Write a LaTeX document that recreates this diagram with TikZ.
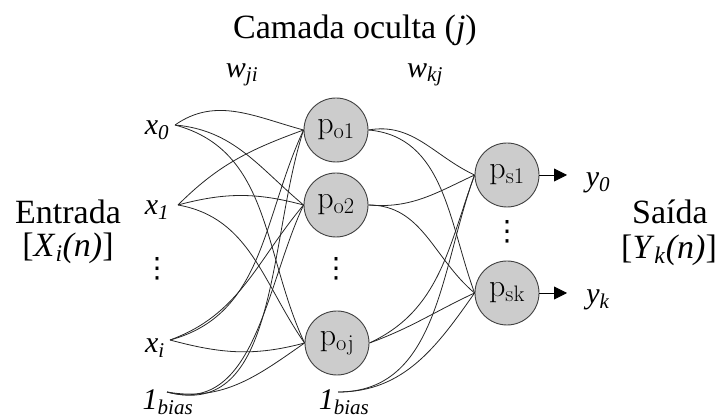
\RequirePackage{fix-cm}
\documentclass[tikz,border=0pt]{standalone}
\usepackage[no-math]{fontspec}
\setmainfont{Liberation Serif}
\newfontfamily\simbolos{DejaVu Sans}
\usetikzlibrary{arrows.meta}

\newcommand{\pontos}{{\simbolos\fontsize{28}{30}\selectfont ⋮}}

\tikzset{
  neuron/.style={circle, draw=black!75, fill=gray!40, line width=0.9pt,
    minimum size=64pt, inner sep=0pt, font=\fontsize{32}{36}\selectfont},
  conn/.style={line width=0.8pt, black!85},
  outarrow/.style={line width=0.9pt, -{Triangle[length=13pt,width=13pt]}},
  lbl/.style={font=\fontsize{30}{32}\selectfont, inner sep=1pt},
  side/.style={font=\fontsize{34}{38}\selectfont, align=center, inner sep=1pt},
}

\begin{document}
\begin{tikzpicture}[x=1pt,y=1pt]
\useasboundingbox (0,0) rectangle (719,419);

% titulo e pesos
\node[side] (titulo) at (355,389) {Camada oculta (\textit{j})};
\node[lbl] (wji) at (242,344) {\textit{w}\textsubscript{\textit{ji}}};
\node[lbl] (wkj) at (425,344) {\textit{w}\textsubscript{\textit{kj}}};

% camada de entrada
\node[lbl] (lx0) at (157,289) {\textit{x}\textsubscript{\textit{0}}};
\node[lbl] (lx1) at (157,209) {\textit{x}\textsubscript{\textit{1}}};
\node[lbl] (ldi) at (157,150) {\pontos};
\node[lbl] (lxi) at (155,71) {\textit{x}\textsubscript{\textit{i}}};
\node[lbl] (lbi) at (168,17) {\textit{1}\textsubscript{\textit{bias}}};
\coordinate (x0) at (175,294);
\coordinate (x1) at (178,214);
\coordinate (xi) at (170,79);
\coordinate (bi) at (167,27);

% camada oculta
\node[neuron] (po1) at (336,289) {$\mathrm{p}_{\mathrm{o1}}$};
\node[neuron] (po2) at (336,214) {$\mathrm{p}_{\mathrm{o2}}$};
\node[lbl] (ldo) at (336,150) {\pontos};
\node[neuron] (poj) at (337,76) {$\mathrm{p}_{\mathrm{oj}}$};
\node[lbl] (lbo) at (344,17) {\textit{1}\textsubscript{\textit{bias}}};
\coordinate (bo) at (338,27);

% camada de saida
\node[neuron] (ps1) at (507,244) {$\mathrm{p}_{\mathrm{s1}}$};
\node[lbl] (lds) at (507,187) {\pontos};
\node[neuron] (psk) at (507,126) {$\mathrm{p}_{\mathrm{sk}}$};
\coordinate (o0) at (567,244);
\coordinate (ok) at (567,126);
\node[lbl] (ly0) at (598,236) {\textit{y}\textsubscript{\textit{0}}};
\node[lbl] (lyk) at (598,119) {\textit{y}\textsubscript{\textit{k}}};

% rotulos laterais
\node[side] (entrada) at (68,207) {Entrada};
\node[side] (xin) at (68,171) {[\textit{X}\textsubscript{\textit{i}}\textit{(n)}]};
\node[side] (saida) at (670,207) {Saída};
\node[side] (yout) at (669,169) {[\textit{Y}\textsubscript{\textit{k}}\textit{(n)}]};

% pesos w_ji
\foreach \src/\dst/\o/\i in {
  x0/po1/35/165, x0/po2/-5/140, x0/poj/-15/115,
  x1/po1/45/200, x1/po2/15/165, x1/poj/-10/125,
  xi/po1/15/245, xi/po2/20/230, xi/poj/-15/195,
  bi/po1/-15/252, bi/po2/-15/245, bi/poj/-10/215}
  \draw[conn] (\src) to[out=\o,in=\i] (\dst.west);

% pesos w_kj
\foreach \src/\dst/\o/\i in {
  po1.east/ps1/10/155, po1.east/psk/-5/110,
  po2.east/ps1/-5/205, po2.east/psk/0/140,
  poj.east/ps1/25/250, poj.east/psk/20/205,
  bo/ps1/0/250, bo/psk/0/235}
  \draw[conn] (\src) to[out=\o,in=\i] (\dst.west);

% saidas
\draw[outarrow] (ps1.east) -- (o0);
\draw[outarrow] (psk.east) -- (ok);
\end{tikzpicture}
\end{document}
